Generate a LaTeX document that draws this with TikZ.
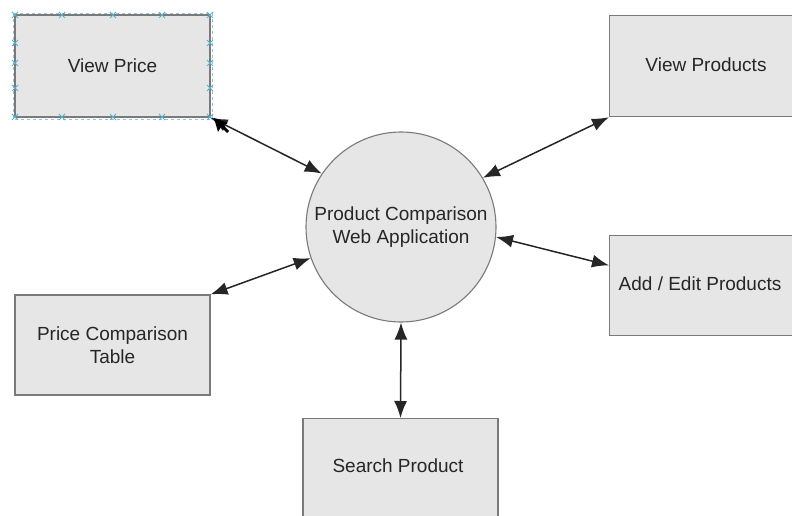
\documentclass[tikz,border=0pt]{standalone}
\usepackage{fontspec}
\setmainfont{Liberation Sans}
\usetikzlibrary{arrows.meta,calc}
\definecolor{boxfill}{HTML}{E6E6E6}
\definecolor{boxline}{HTML}{7A7A7A}
\definecolor{selblue}{HTML}{5AAFCF}
\definecolor{txt}{HTML}{262626}
\tikzset{
  x=1pt, y=-1pt,
  lbl/.style={font=\fontsize{19}{23}\selectfont, text=txt, align=center},
  box/.style={draw=boxline, fill=boxfill, line width=1.2pt, inner sep=0pt, lbl},
  hub/.style={circle, draw=boxline, fill=boxfill, line width=1.1pt, minimum size=190pt, inner sep=0pt, lbl},
  link/.style={line width=1.5pt, txt, {Latex[length=17pt,width=13pt]}-{Latex[length=17pt,width=13pt]}},
  handle/.style={selblue, line width=0.8pt}
}
\begin{document}
\begin{tikzpicture}
\useasboundingbox (0,0) rectangle (792,516);
\clip (0,0) rectangle (792,516);
\fill[white] (0,0) rectangle (792,516);

\node[box, minimum width=195pt, minimum height=102pt] (vp) at (112.5,66) {View Price};
\node[box, minimum width=200pt, minimum height=101pt, anchor=north west] (vprod) at (609,15) {};
\node[lbl] (vprodt) at (706,65) {View Products};
\node[box, minimum width=200pt, minimum height=100pt, anchor=north west] (ae) at (609,235) {};
\node[lbl] (aet) at (700,284) {Add / Edit Products};
\node[box, minimum width=195pt, minimum height=100pt] (pct) at (112.5,345) {Price Comparison\\Table};
\node[box, minimum width=195pt, minimum height=110pt, anchor=north] (sp) at (400.5,418) {};
\node[lbl] (spt) at (398,466) {Search Product};
\node[hub] (c) at (401,227) {Product Comparison\\Web Application};

% selection handles around View Price
\draw[selblue!70, dashed, line width=0.6pt] (13,13) rectangle (212,119);
\foreach \px in {15,62,113,162,210}{
  \foreach \py in {15,117}{
    \draw[handle] (\px-3,\py-3) -- (\px+3,\py+3) (\px-3,\py+3) -- (\px+3,\py-3);
  }
}
\foreach \py in {43,63,88}{
  \foreach \px in {15,210}{
    \draw[handle] (\px-3,\py-3) -- (\px+3,\py+3) (\px-3,\py+3) -- (\px+3,\py-3);
  }
}

% connectors
\draw[link] (vp.south east) -- (c.146.5);
\draw[link] (vprod.south west) -- (c.31);
\draw[link] ($(ae.north west)!0.3!(ae.south west)$) -- (c.-6.5);
\draw[link] (pct.north east) -- (c.199);
\draw[link] (c.south) -- (sp.north);

% mouse cursor
\fill[black] (214,118) -- (228,123) -- (223,125) -- (229,131) -- (227,133) -- (221,127) -- (218,132) -- cycle;
\end{tikzpicture}
\end{document}
